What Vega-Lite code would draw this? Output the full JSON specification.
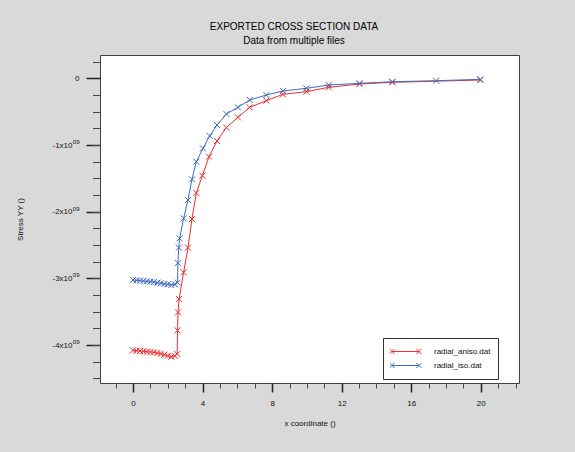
{
  "$schema": "https://vega.github.io/schema/vega-lite/v6.json",
  "width": 419,
  "height": 328,
  "autosize": "none",
  "padding": {"left": 100, "top": 55, "right": 56, "bottom": 69},
  "background": "#d9d9d9",
  "config": {
    "font": "Liberation Sans",
    "view": {"fill": "white", "stroke": "#404040", "strokeWidth": 1}
  },
  "title": {
    "text": "EXPORTED CROSS SECTION DATA",
    "subtitle": "Data from multiple files",
    "font": "Liberation Sans",
    "subtitleFont": "Liberation Sans",
    "fontSize": 10,
    "fontWeight": "normal",
    "subtitleFontSize": 10,
    "color": "#000000",
    "subtitleColor": "#000000",
    "anchor": "middle",
    "frame": "group",
    "dx": -15.5,
    "offset": 9,
    "subtitlePadding": 4
  },
  "data": {
    "values": [
      {"file": "radial_aniso.dat", "x": 0, "y": -4.08e9},
      {"file": "radial_aniso.dat", "x": 0.2, "y": -4.085e9},
      {"file": "radial_aniso.dat", "x": 0.4, "y": -4.09e9},
      {"file": "radial_aniso.dat", "x": 0.6, "y": -4.095e9},
      {"file": "radial_aniso.dat", "x": 0.8, "y": -4.1e9},
      {"file": "radial_aniso.dat", "x": 1.0, "y": -4.105e9},
      {"file": "radial_aniso.dat", "x": 1.2, "y": -4.11e9},
      {"file": "radial_aniso.dat", "x": 1.4, "y": -4.12e9},
      {"file": "radial_aniso.dat", "x": 1.6, "y": -4.13e9},
      {"file": "radial_aniso.dat", "x": 1.8, "y": -4.145e9},
      {"file": "radial_aniso.dat", "x": 2.0, "y": -4.16e9},
      {"file": "radial_aniso.dat", "x": 2.2, "y": -4.175e9},
      {"file": "radial_aniso.dat", "x": 2.4, "y": -4.165e9},
      {"file": "radial_aniso.dat", "x": 2.54, "y": -4.135e9},
      {"file": "radial_aniso.dat", "x": 2.56, "y": -3.78e9},
      {"file": "radial_aniso.dat", "x": 2.59, "y": -3.51e9},
      {"file": "radial_aniso.dat", "x": 2.65, "y": -3.31e9},
      {"file": "radial_aniso.dat", "x": 2.91, "y": -2.91e9},
      {"file": "radial_aniso.dat", "x": 3.16, "y": -2.54e9},
      {"file": "radial_aniso.dat", "x": 3.39, "y": -2.11e9},
      {"file": "radial_aniso.dat", "x": 3.64, "y": -1.72e9},
      {"file": "radial_aniso.dat", "x": 3.99, "y": -1.46e9},
      {"file": "radial_aniso.dat", "x": 4.37, "y": -1.175e9},
      {"file": "radial_aniso.dat", "x": 4.83, "y": -0.94e9},
      {"file": "radial_aniso.dat", "x": 5.37, "y": -0.74e9},
      {"file": "radial_aniso.dat", "x": 6.03, "y": -0.585e9},
      {"file": "radial_aniso.dat", "x": 6.71, "y": -0.435e9},
      {"file": "radial_aniso.dat", "x": 7.67, "y": -0.335e9},
      {"file": "radial_aniso.dat", "x": 8.62, "y": -0.24e9},
      {"file": "radial_aniso.dat", "x": 9.97, "y": -0.2e9},
      {"file": "radial_aniso.dat", "x": 11.26, "y": -0.135e9},
      {"file": "radial_aniso.dat", "x": 13.03, "y": -0.085e9},
      {"file": "radial_aniso.dat", "x": 14.91, "y": -0.06e9},
      {"file": "radial_aniso.dat", "x": 19.98, "y": -0.025e9},
      {"file": "radial_iso.dat", "x": 0, "y": -3.025e9},
      {"file": "radial_iso.dat", "x": 0.2, "y": -3.03e9},
      {"file": "radial_iso.dat", "x": 0.4, "y": -3.035e9},
      {"file": "radial_iso.dat", "x": 0.6, "y": -3.04e9},
      {"file": "radial_iso.dat", "x": 0.8, "y": -3.045e9},
      {"file": "radial_iso.dat", "x": 1.0, "y": -3.05e9},
      {"file": "radial_iso.dat", "x": 1.2, "y": -3.055e9},
      {"file": "radial_iso.dat", "x": 1.4, "y": -3.065e9},
      {"file": "radial_iso.dat", "x": 1.6, "y": -3.075e9},
      {"file": "radial_iso.dat", "x": 1.8, "y": -3.085e9},
      {"file": "radial_iso.dat", "x": 2.0, "y": -3.09e9},
      {"file": "radial_iso.dat", "x": 2.2, "y": -3.1e9},
      {"file": "radial_iso.dat", "x": 2.4, "y": -3.09e9},
      {"file": "radial_iso.dat", "x": 2.56, "y": -3.065e9},
      {"file": "radial_iso.dat", "x": 2.58, "y": -2.77e9},
      {"file": "radial_iso.dat", "x": 2.63, "y": -2.54e9},
      {"file": "radial_iso.dat", "x": 2.68, "y": -2.4e9},
      {"file": "radial_iso.dat", "x": 2.91, "y": -2.1e9},
      {"file": "radial_iso.dat", "x": 3.16, "y": -1.825e9},
      {"file": "radial_iso.dat", "x": 3.39, "y": -1.515e9},
      {"file": "radial_iso.dat", "x": 3.64, "y": -1.25e9},
      {"file": "radial_iso.dat", "x": 4.02, "y": -1.05e9},
      {"file": "radial_iso.dat", "x": 4.41, "y": -0.865e9},
      {"file": "radial_iso.dat", "x": 4.83, "y": -0.7e9},
      {"file": "radial_iso.dat", "x": 5.37, "y": -0.535e9},
      {"file": "radial_iso.dat", "x": 6.03, "y": -0.435e9},
      {"file": "radial_iso.dat", "x": 6.71, "y": -0.325e9},
      {"file": "radial_iso.dat", "x": 7.67, "y": -0.25e9},
      {"file": "radial_iso.dat", "x": 8.62, "y": -0.19e9},
      {"file": "radial_iso.dat", "x": 9.97, "y": -0.15e9},
      {"file": "radial_iso.dat", "x": 11.26, "y": -0.1e9},
      {"file": "radial_iso.dat", "x": 13.03, "y": -0.075e9},
      {"file": "radial_iso.dat", "x": 14.91, "y": -0.051e9},
      {"file": "radial_iso.dat", "x": 17.44, "y": -0.036e9},
      {"file": "radial_iso.dat", "x": 19.98, "y": -0.015e9}
    ]
  },
  "layer": [
    {
      "mark": {"type": "line", "strokeWidth": 1, "clip": true},
      "encoding": {
        "x": {
          "field": "x", "type": "quantitative",
          "scale": {"domain": [-1.9, 22.2], "nice": false, "zero": false},
          "axis": {
            "orient": "bottom", "values": [0, 4, 8, 12, 16, 20],
            "domain": false, "grid": false,
            "tickSize": 9, "tickWidth": 1.5, "tickColor": "#222222",
            "labelFontSize": 8, "labelPadding": 7, "labelColor": "#111111",
            "title": "x coordinate ()", "titleFontSize": 8, "titleFontWeight": "normal",
            "titleColor": "#111111", "titlePadding": 12
          }
        },
        "y": {
          "field": "y", "type": "quantitative",
          "scale": {"domain": [-4.57e9, 0.35e9], "nice": false, "zero": false},
          "axis": {
            "orient": "left", "values": [0, -1e9, -2e9, -3e9, -4e9],
            "domain": false, "grid": false,
            "tickSize": 14, "tickWidth": 1.5, "tickColor": "#222222",
            "labelFontSize": 8, "labelColor": "#111111", "labelOverlap": false,
            "labelPadding": {"condition": {"test": "datum.value == 0", "value": 7}, "value": 14},
            "labelExpr": "datum.value == 0 ? '0' : '-' + abs(round(datum.value / 1e9)) + 'x10'",
            "title": "Stress YY ()", "titleFontSize": 8, "titleFontWeight": "normal",
            "titleColor": "#111111", "titlePadding": 27
          }
        },
        "color": {
          "field": "file", "type": "nominal",
          "scale": {"domain": ["radial_aniso.dat", "radial_iso.dat"], "range": ["#ee2c2c", "#3d6cc0"]},
          "legend": {
            "title": null,
            "orient": "none", "legendX": 283, "legendY": 283,
            "fillColor": "white", "strokeColor": "#333333", "padding": 7,
            "symbolType": "M-0.9,0H0.9M-1.07,-0.17L-0.73,0.17M-1.07,0.17L-0.73,-0.17M0.73,-0.17L1.07,0.17M0.73,0.17L1.07,-0.17",
            "symbolSize": 900, "symbolStrokeWidth": 1, "symbolFillColor": "transparent",
            "clipHeight": 13, "rowPadding": 1,
            "labelFontSize": 8, "labelOffset": 13, "labelColor": "#111111"
          }
        }
      }
    },
    {
      "mark": {"type": "point", "shape": "M-1,-1L1,1M-1,1L1,-1", "filled": false, "size": 36, "strokeWidth": 1, "opacity": 1, "clip": true},
      "encoding": {
        "x": {
          "field": "x", "type": "quantitative",
          "axis": {
            "orient": "bottom", "values": [-1, 1, 2, 3, 5, 6, 7, 9, 10, 11, 13, 14, 15, 17, 18, 19, 21, 22],
            "domain": false, "grid": false, "labels": false, "title": null,
            "tickSize": 5, "tickWidth": 1, "tickColor": "#444444"
          }
        },
        "y": {
          "field": "y", "type": "quantitative",
          "axis": {
            "orient": "left",
            "values": [2.5e8, -2.5e8, -5e8, -7.5e8, -1e9, -1.25e9, -1.5e9, -1.75e9, -2e9, -2.25e9, -2.5e9, -2.75e9, -3e9, -3.25e9, -3.5e9, -3.75e9, -4e9, -4.25e9, -4.5e9],
            "domain": false, "grid": false, "title": null,
            "labelExpr": "datum.value % 1e9 == 0 ? '09' : ''",
            "labelFontSize": 6, "labelPadding": 13.5, "labelOffset": -3.5, "labelOverlap": false,
            "labelColor": "#111111",
            "tickSize": 7.5, "tickWidth": 1, "tickColor": "#444444"
          }
        },
        "color": {"field": "file", "type": "nominal"}
      }
    }
  ],
  "resolve": {"axis": {"x": "independent", "y": "independent"}}
}
